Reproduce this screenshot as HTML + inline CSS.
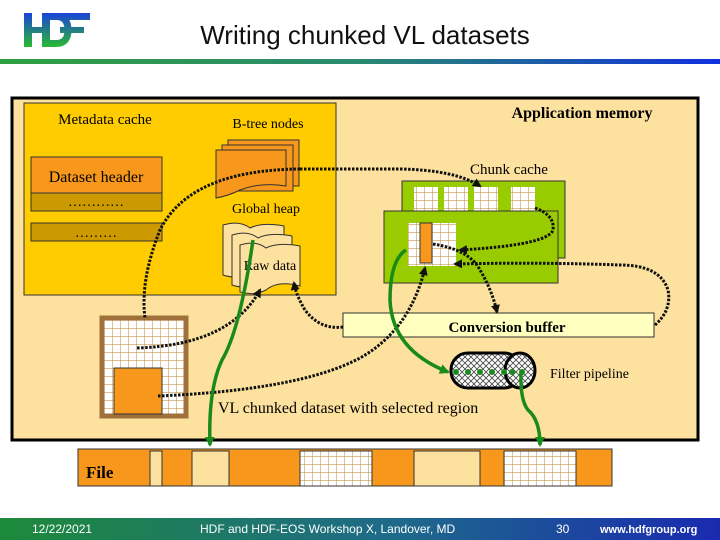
<!DOCTYPE html>
<html><head><meta charset="utf-8"><style>
html,body{margin:0;padding:0;background:#fff;width:720px;height:540px;overflow:hidden}
svg{display:block}
.s{font-family:"Liberation Serif",serif}
</style></head><body>
<svg width="720" height="540" viewBox="0 0 720 540" xmlns="http://www.w3.org/2000/svg">
<defs>
<linearGradient id="hl" x1="0" x2="1"><stop offset="0" stop-color="#2fa040"/><stop offset="0.5" stop-color="#2a8a70"/><stop offset="1" stop-color="#1030e0"/></linearGradient>
<linearGradient id="ft" x1="0" x2="1"><stop offset="0" stop-color="#1d8a3a"/><stop offset="0.55" stop-color="#1e6a8a"/><stop offset="1" stop-color="#1a2ab0"/></linearGradient>
<linearGradient id="lg" gradientUnits="userSpaceOnUse" x1="0" y1="12" x2="0" y2="47"><stop offset="0" stop-color="#1a3fe0"/><stop offset="1" stop-color="#2aba30"/></linearGradient>
<pattern id="grid" width="8" height="8" patternUnits="userSpaceOnUse"><rect width="8" height="8" fill="#fff"/><path d="M0 0H8M0 0V8" stroke="#c89a50" stroke-width="1.2"/></pattern>
<pattern id="hatch" width="6" height="6" patternUnits="userSpaceOnUse"><rect width="6" height="6" fill="#fff"/><path d="M0 0L6 6M6 0L0 6" stroke="#444" stroke-width="0.8"/></pattern>
<marker id="ab" markerUnits="userSpaceOnUse" markerWidth="9" markerHeight="9" refX="7" refY="4.5" orient="auto"><path d="M0 0L9 4.5L0 9z" fill="#111"/></marker>
<marker id="ag" markerUnits="userSpaceOnUse" markerWidth="10" markerHeight="10" refX="8" refY="5" orient="auto"><path d="M0 0L10 5L0 10z" fill="#1a8a1a"/></marker>
</defs>
<!-- logo -->
<g fill="url(#lg)">
<rect x="24" y="13" width="8" height="34"/><rect x="24" y="27" width="22" height="6"/>
<rect x="42" y="13" width="8" height="34"/>
<rect x="58" y="13" width="32" height="7"/><rect x="60" y="27" width="24" height="6"/>
</g>
<path d="M46 16.5H56Q68 16.5 68 30Q68 43.5 56 43.5H46" fill="none" stroke="url(#lg)" stroke-width="7"/>
<text x="365" y="44" text-anchor="middle" font-family="Liberation Sans,sans-serif" font-size="26" fill="#111">Writing chunked VL datasets</text>
<rect x="0" y="59" width="720" height="5" fill="url(#hl)"/>
<!-- outer -->
<rect x="12" y="98" width="686" height="342" fill="#fde19e" stroke="#000" stroke-width="3"/>
<rect x="24" y="103" width="312" height="192" fill="#ffcc00" stroke="#333" stroke-width="1"/>
<text x="105" y="124" text-anchor="middle" class="s" font-size="15">Metadata cache</text>
<text x="268" y="128" text-anchor="middle" class="s" font-size="14">B-tree nodes</text>
<text x="582" y="118" text-anchor="middle" class="s" font-size="16" font-weight="bold">Application memory</text>
<rect x="31" y="157" width="131" height="36" fill="#f7981c" stroke="#333"/>
<text x="96" y="182" text-anchor="middle" class="s" font-size="16">Dataset header</text>
<rect x="31" y="193" width="131" height="18" fill="#cc9900" stroke="#333"/>
<text x="96" y="206" text-anchor="middle" class="s" font-size="14">…………</text>
<rect x="31" y="223" width="131" height="18" fill="#cc9900" stroke="#333"/>
<text x="96" y="237" text-anchor="middle" class="s" font-size="14">………</text>
<!-- btree pages -->
<g stroke="#333" fill="#f7981c">
<rect x="228" y="140" width="71" height="46"/><rect x="222" y="145" width="71" height="46"/>
<path d="M216 150H286V186Q260 182 240 190Q228 196 216 198z"/>
</g>
<text x="266" y="213" text-anchor="middle" class="s" font-size="14">Global heap</text>
<g stroke="#333" fill="#fde19e">
<path d="M223 225Q240 220 250 228Q262 222 284 226V270Q262 262 250 272Q238 280 223 275z"/>
<path d="M232 235Q248 230 258 238Q270 232 292 236V280Q270 272 258 282Q246 290 232 285z"/>
<path d="M240 245Q256 240 266 248Q278 242 300 246V286Q278 280 266 290Q254 296 240 292z"/>
</g>
<text x="270" y="270" text-anchor="middle" class="s" font-size="14">Raw data</text>
<!-- chunk cache -->
<text x="509" y="174" text-anchor="middle" class="s" font-size="15">Chunk cache</text>
<rect x="402" y="181" width="163" height="77" fill="#99cc00" stroke="#333"/>
<rect x="414" y="187" width="24" height="28" fill="url(#grid)"/>
<rect x="444" y="187" width="24" height="28" fill="url(#grid)"/>
<rect x="474" y="187" width="24" height="28" fill="url(#grid)"/>
<rect x="511" y="187" width="24" height="28" fill="url(#grid)"/>
<rect x="384" y="211" width="174" height="72" fill="#99cc00" stroke="#333"/>
<rect x="408" y="223" width="48" height="43" fill="url(#grid)"/>
<rect x="420" y="223" width="12" height="40" fill="#f7981c" stroke="#333"/>
<!-- conversion buffer -->
<rect x="343" y="313" width="311" height="24" fill="#ffffc0" stroke="#333"/>
<text x="507" y="332" text-anchor="middle" class="s" font-size="15" font-weight="bold">Conversion buffer</text>
<!-- filter -->
<rect x="451" y="353" width="70" height="35" rx="17" fill="url(#hatch)" stroke="#000" stroke-width="3"/>
<ellipse cx="520" cy="370.5" rx="15" ry="17.5" fill="url(#hatch)" stroke="#000" stroke-width="3"/>
<text x="550" y="378" class="s" font-size="14">Filter pipeline</text>
<text x="218" y="413" class="s" font-size="16">VL chunked dataset with selected region</text>
<!-- dataset -->
<rect x="102" y="318" width="84" height="98" fill="url(#grid)" stroke="#a0703a" stroke-width="5"/>
<rect x="114" y="368" width="48" height="46" fill="#f7981c" stroke="#333"/>
<!-- file -->
<rect x="78" y="449" width="534" height="37" fill="#f7981c" stroke="#333"/>
<rect x="150" y="451" width="12" height="35" fill="#fde19e" stroke="#333"/>
<rect x="192" y="451" width="37" height="35" fill="#fde19e" stroke="#333"/>
<rect x="300" y="451" width="72" height="35" fill="url(#grid)" stroke="#333"/>
<rect x="414" y="451" width="66" height="35" fill="#fde19e" stroke="#333"/>
<rect x="504" y="451" width="72" height="35" fill="url(#grid)" stroke="#333"/>
<text x="86" y="478" class="s" font-size="17" font-weight="bold">File</text>
<!-- dotted connectors -->
<g fill="none" stroke="#111" stroke-width="3" stroke-dasharray="2.5 1.5">
<path d="M300 169H400Q455 170 480 186" marker-end="url(#ab)"/>
<path d="M300 169Q190 170 160 230Q140 280 145 318"/>
<path d="M535 208Q555 215 553 230Q548 245 460 250" marker-end="url(#ab)"/>
<path d="M655 325Q672 310 668 290Q660 265 620 265Q540 262 455 264" marker-end="url(#ab)"/>
<path d="M433 244Q470 250 480 270Q492 290 497 312" marker-end="url(#ab)"/>
<path d="M137 348Q230 345 260 290" marker-end="url(#ab)"/>
<path d="M343 327Q320 330 305 310Q296 295 294 283" marker-end="url(#ab)"/>
<path d="M158 396Q300 390 360 358Q410 330 425 268" marker-end="url(#ab)"/>
</g>
<!-- green connectors -->
<g fill="none" stroke="#1a8a1a" stroke-width="3.5">
<path d="M253 240Q240 330 222 360Q208 390 210 445" marker-end="url(#ag)"/>
<path d="M406 250Q390 260 390 300Q392 350 448 372" marker-end="url(#ag)"/>
<path d="M521 372Q520 400 528 410Q540 420 540 445" marker-end="url(#ag)"/>
</g>
<g fill="#1a8a1a"><circle cx="456" cy="372" r="3"/><circle cx="468" cy="372" r="3"/><circle cx="480" cy="372" r="3"/><circle cx="492" cy="372" r="3"/><circle cx="504" cy="372" r="3"/><circle cx="512" cy="372" r="3"/><circle cx="522" cy="372" r="3"/></g>
<!-- footer -->
<rect x="0" y="518" width="720" height="22" fill="url(#ft)"/>
<g font-family="Liberation Sans,sans-serif" font-size="12" fill="#fff">
<text x="32" y="533">12/22/2021</text>
<text x="200" y="533">HDF and HDF-EOS Workshop X, Landover, MD</text>
<text x="556" y="533">30</text>
<text x="600" y="533" font-weight="bold" font-size="11">www.hdfgroup.org</text>
</g>
</svg>
</body></html>
